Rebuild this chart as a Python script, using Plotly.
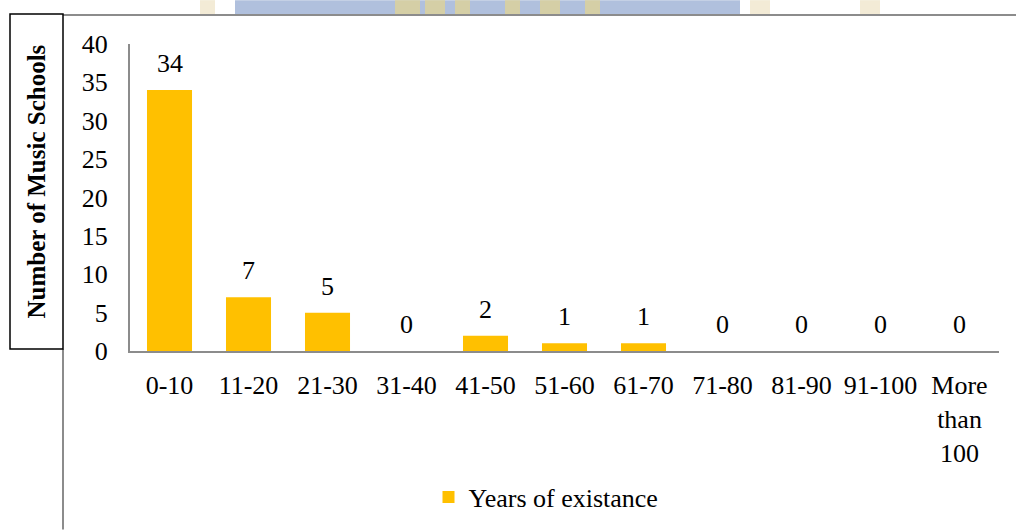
import plotly.graph_objects as go

categories = ["0-10", "11-20", "21-30", "31-40", "41-50", "51-60", "61-70",
              "71-80", "81-90", "91-100", "More<br>than<br>100"]
values = [34, 7, 5, 0, 2, 1, 1, 0, 0, 0, 0]
series_name = "Years of existance"
y_ticks = [0, 5, 10, 15, 20, 25, 30, 35, 40]

W, H = 1016, 531
L, R, T, B = 130, 17, 44, 179
PW = W - L - R
PH = H - T - B

def px(x):
    return (x - L) / PW

def py(y):
    return (H - B - y) / PH

FONT = "Liberation Serif"
FS = 26

fig = go.Figure()
fig.add_trace(go.Bar(
    x=categories, y=values, name=series_name,
    marker=dict(color="#FFC000", line=dict(width=0)),
    width=0.57, showlegend=True,
))

for c, v in zip(categories, values):
    fig.add_annotation(x=c, y=v, text=str(v), showarrow=False,
                       yanchor="bottom", yshift=10,
                       font=dict(family=FONT, size=FS, color="black"))

shapes = [
    # watermark hint
    dict(type="rect", xref="paper", yref="paper", x0=px(235), x1=px(740),
         y0=py(14), y1=py(0), fillcolor="#B0C0DD", line=dict(width=0), layer="below"),
]
for a, b in [(395, 420), (425, 445), (455, 470), (505, 520), (540, 560), (585, 600)]:
    shapes.append(dict(type="rect", xref="paper", yref="paper", x0=px(a), x1=px(b),
                       y0=py(14), y1=py(0), fillcolor="#E6D58E", opacity=0.7,
                       line=dict(width=0), layer="below"))
for a, b in [(200, 215), (750, 770), (860, 880)]:
    shapes.append(dict(type="rect", xref="paper", yref="paper", x0=px(a), x1=px(b),
                       y0=py(14), y1=py(0), fillcolor="#EEE3C4", opacity=0.7,
                       line=dict(width=0), layer="below"))
shapes += [
    # top frame line
    dict(type="line", xref="paper", yref="paper", x0=px(63), x1=px(1016),
         y0=py(15), y1=py(15), line=dict(color="#8C8C8C", width=2)),
    # left vertical line below box
    dict(type="line", xref="paper", yref="paper", x0=px(63), x1=px(63),
         y0=py(350), y1=py(531), line=dict(color="#8C8C8C", width=2)),
    # title box
    dict(type="rect", xref="paper", yref="paper", x0=px(10), x1=px(63),
         y0=py(350), y1=py(14), line=dict(color="black", width=1.5), fillcolor="white"),
]

fig.add_annotation(xref="paper", yref="paper", x=px(37), y=py(182),
                   text="<b>Number of Music Schools</b>", textangle=-90,
                   showarrow=False, xanchor="center", yanchor="middle",
                   font=dict(family=FONT, size=25, color="black"))

fig.update_layout(
    width=W, height=H,
    margin=dict(l=L, r=R, t=T, b=B),
    paper_bgcolor="white", plot_bgcolor="white",
    shapes=shapes,
    font=dict(family=FONT, size=FS, color="black"),
    xaxis=dict(showgrid=False, showline=True, linecolor="#8C8C8C", linewidth=2,
               ticks="", tickfont=dict(family=FONT, size=FS, color="black"),
               ticklabelstandoff=10),
    yaxis=dict(range=[0, 40], tickvals=y_ticks, showgrid=False, showline=True,
               linecolor="#8C8C8C", linewidth=2, ticks="", zeroline=False,
               tickfont=dict(family=FONT, size=FS, color="black"),
               ticklabelstandoff=15),
    legend=dict(orientation="h", x=px(546), y=py(497), xanchor="center",
                yanchor="middle", font=dict(family=FONT, size=FS, color="black")),
    bargap=0.43,
)

fig.write_html("out.html")
